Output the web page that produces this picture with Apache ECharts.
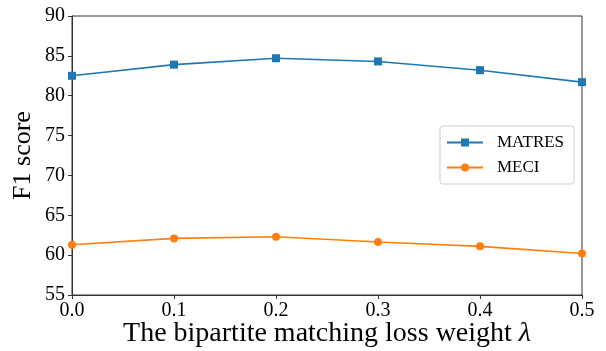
<!DOCTYPE html>
<html>
<head>
<meta charset="utf-8">
<script src="https://cdn.jsdelivr.net/npm/echarts@6/dist/echarts.min.js"></script>
<style>
  html, body { margin: 0; padding: 0; background: #fff; }
  #main { width: 606px; height: 351px; }
</style>
</head>
<body>
<div id="main"></div>
<script>
// loss weight lambda
var lambdas = [0.0, 0.1, 0.2, 0.3, 0.4, 0.5];
var matres = [82.5, 83.9, 84.7, 84.3, 83.2, 81.7];
var meci = [61.3, 62.1, 62.3, 61.65, 61.1, 60.2];

function pairs(ys) {
  return lambdas.map(function (x, i) { return [x, ys[i]]; });
}

var font = 'Liberation Serif';
var chart = echarts.init(document.getElementById('main'));

chart.setOption({
  animation: false,
  color: ['#1f77b4', '#ff7f0e'],
  grid: {
    left: 72, right: 24, top: 16, bottom: 56,
    outerBoundsMode: 'none',
    show: true, borderColor: '#333', borderWidth: 1
  },
  legend: {
    orient: 'vertical',
    left: 440, top: 126,
    itemWidth: 36, itemHeight: 10, itemGap: 8,
    padding: [8, 10, 8, 6],
    borderColor: '#ccc', borderWidth: 1, borderRadius: 3,
    textStyle: { fontFamily: font, fontSize: 17, color: '#000', padding: [0, 0, 0, 9] },
    data: ['MATRES', 'MECI']
  },
  xAxis: {
    type: 'value',
    min: 0, max: 0.5, interval: 0.1,
    name: 'The bipartite matching loss weight {i|λ}',
    nameLocation: 'middle',
    nameMoveOverlap: false,
    nameGap: 25,
    nameTextStyle: {
      fontFamily: font, fontSize: 28, color: '#000',
      rich: { i: { fontFamily: font, fontSize: 28, fontStyle: 'italic', color: '#000' } }
    },
    splitLine: { show: false },
    axisLine: { lineStyle: { color: '#333' } },
    axisTick: { show: true, length: 4, lineStyle: { color: '#333' } },
    axisLabel: {
      fontFamily: font, fontSize: 20, color: '#000', margin: 6,
      formatter: function (v) { return v.toFixed(1); }
    }
  },
  yAxis: {
    type: 'value',
    min: 55, max: 90, interval: 5,
    name: 'F1 score',
    nameLocation: 'middle',
    nameMoveOverlap: false,
    nameGap: 36,
    nameTextStyle: { fontFamily: font, fontSize: 26, color: '#000' },
    splitLine: { show: false },
    axisLine: { show: true, lineStyle: { color: '#333' } },
    axisTick: { show: true, length: 4, lineStyle: { color: '#333' } },
    axisLabel: { fontFamily: font, fontSize: 20, color: '#000', margin: 7 }
  },
  series: [
    {
      name: 'MATRES', type: 'line',
      data: pairs(matres),
      symbol: 'rect', symbolSize: 8,
      lineStyle: { width: 1.6 }
    },
    {
      name: 'MECI', type: 'line',
      data: pairs(meci),
      symbol: 'circle', symbolSize: 8,
      lineStyle: { width: 1.6 }
    }
  ]
});
</script>
</body>
</html>
